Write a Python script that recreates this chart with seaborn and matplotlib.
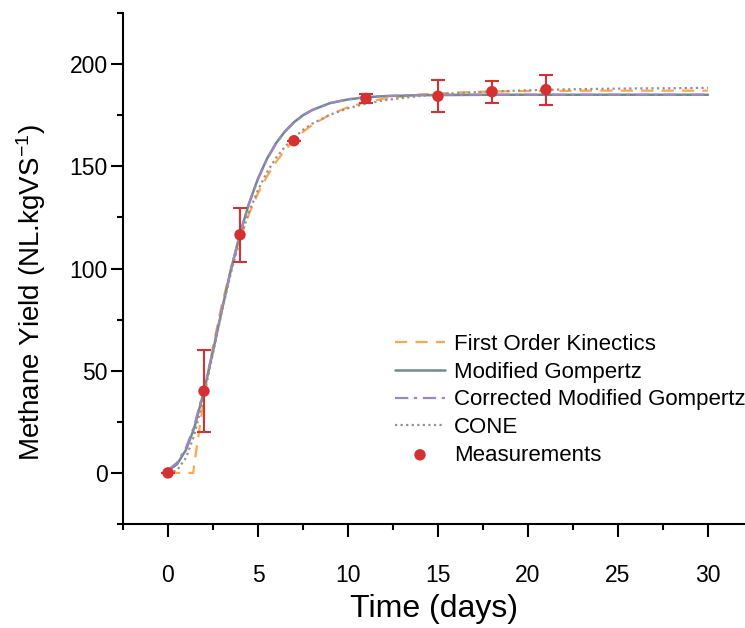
import numpy as np
import pandas as pd
import matplotlib
matplotlib.use("Agg")
import matplotlib.pyplot as plt
import seaborn as sns
from matplotlib.ticker import MultipleLocator

# ---------------- data ----------------
time_days = [0, 0.5, 1, 1.4, 1.5, 2, 2.5, 3, 3.5, 4, 4.5, 5, 5.5, 6, 6.5, 7, 7.5, 8,
             9, 10, 11, 12, 14, 16, 18, 20, 22, 24, 26, 28, 30]
first_order = [0, 0, 0, 0, 6.7, 36.8, 61.8, 82.7, 100.1, 114.6, 126.7, 136.8, 145.1,
               152.1, 157.9, 162.8, 166.8, 170.2, 175.3, 178.9, 181.4, 183.1, 185.1,
               186.1, 186.6, 186.8, 186.9, 187.0, 187.0, 187.0, 187.0]
modified_gompertz = [1.1, 4.2, 11.3, 20.5, 23.3, 40.0, 59.6, 80.0, 99.5, 117.0, 131.8,
                     144.0, 153.7, 161.3, 167.1, 171.6, 175.0, 177.5, 180.9, 182.7, 183.8,
                     184.3, 184.8, 184.9, 185.0, 185.0, 185.0, 185.0, 185.0, 185.0, 185.0]
corrected_gompertz = [1.5, 5.0, 12.3, 21.6, 24.5, 41.0, 60.3, 80.4, 99.7, 117.0, 131.6,
                      143.7, 153.4, 161.0, 166.9, 171.4, 174.8, 177.4, 180.9, 182.8, 183.9,
                      184.4, 184.9, 185.0, 185.0, 185.0, 185.0, 185.0, 185.0, 185.0, 185.0]
cone = [0, 1.25, 7.4, 16.9, 19.9, 37.7, 58.4, 79.1, 98.0, 114.2, 127.6, 138.4, 147.1,
        154.1, 159.6, 164.1, 167.8, 170.8, 175.2, 178.4, 180.6, 182.3, 184.4, 185.8,
        186.6, 187.2, 187.6, 187.9, 188.1, 188.2, 188.4]

meas_t = [0, 2, 4, 7, 11, 15, 18, 21]
meas_y = [0, 40.0, 116.5, 162.5, 183.2, 184.3, 186.5, 187.5]
meas_err = [0, 20.0, 13.2, 0, 2.3, 7.8, 5.3, 7.4]

x_ticks = [0, 5, 10, 15, 20, 25, 30]
y_ticks = [0, 50, 100, 150, 200]

series_labels = ["First Order Kinectics", "Modified Gompertz",
                 "Corrected Modified Gompertz", "CONE"]

# ---------------- styling ----------------
sns.set_style("ticks")
plt.rcParams["font.family"] = ["Liberation Sans", "DejaVu Sans"]
plt.rcParams["mathtext.default"] = "regular"
plt.rcParams["text.color"] = "black"
plt.rcParams["axes.labelcolor"] = "black"

fig = plt.figure(figsize=(7.45, 6.28), dpi=100)
ax = fig.add_axes([123 / 745, 104 / 628, 622 / 745, 511 / 628])

c_orange = "#FFA64D"
c_teal = "#6E8C8C"
c_purple = "#9F85CC"
c_gray = "#9C8F8A"
c_red = "#D43232"

curves = pd.DataFrame({"t": time_days, "fo": first_order, "mg": modified_gompertz,
                       "cmg": corrected_gompertz, "cone": cone})

sns.lineplot(data=curves, x="t", y="fo", ax=ax, color=c_orange, lw=1.6,
             linestyle=(0, (5.5, 3.7)), label=series_labels[0])
sns.lineplot(data=curves, x="t", y="mg", ax=ax, color=c_teal, lw=1.8,
             label=series_labels[1])
sns.lineplot(data=curves, x="t", y="cmg", ax=ax, color=c_purple, lw=1.6,
             linestyle=(0, (6, 2.5, 1.5, 2.5)), label=series_labels[2])
sns.lineplot(data=curves, x="t", y="cone", ax=ax, color=c_gray, lw=1.6,
             linestyle=(0, (1, 1.5)), label=series_labels[3])

ax.errorbar(meas_t, meas_y, yerr=meas_err, fmt="none", ecolor=c_red,
            elinewidth=1.5, capsize=5, capthick=1.5, zorder=5)
meas = pd.DataFrame({"t": meas_t, "y": meas_y})
sns.scatterplot(data=meas, x="t", y="y", ax=ax, color=c_red, s=68,
                edgecolor="none", zorder=6, label="Measurements")

ax.set_xlim(-2.5, 32.06)
ax.set_ylim(-25, 225)
ax.set_xticks(x_ticks)
ax.set_yticks(y_ticks)
ax.xaxis.set_minor_locator(MultipleLocator(2.5))
ax.yaxis.set_minor_locator(MultipleLocator(25))
ax.tick_params(which="major", length=9, width=1.5, labelsize=16.5, color="black",
               labelcolor="black")
ax.tick_params(axis="x", which="major", pad=20)
ax.tick_params(axis="y", which="major", pad=2)
ax.tick_params(which="minor", length=4.5, width=1.5, color="black")
for lab in ax.get_xticklabels() + ax.get_yticklabels():
    lab.set_family(["Liberation Sans Narrow", "Liberation Sans"])
for side in ["top", "right"]:
    ax.spines[side].set_visible(False)
for side in ["left", "bottom"]:
    ax.spines[side].set_linewidth(1.5)
    ax.spines[side].set_color("black")

ax.set_xlabel("Time (days)", fontsize=23, labelpad=5)
ax.set_ylabel("Methane Yield (NL.kgVS$^{-1}$)", fontsize=20)
ax.yaxis.set_label_coords(-0.12, 0.452)

handles, labels = ax.get_legend_handles_labels()
ax.legend(handles, labels, loc="upper left", bbox_to_anchor=(395 / 745, (628 - 334) / 628),
          bbox_transform=fig.transFigure, frameon=False, fontsize=16, borderpad=0,
          handlelength=2.25, handletextpad=0.4, labelspacing=0.3, borderaxespad=0)

fig.savefig("out.png", dpi=100)
